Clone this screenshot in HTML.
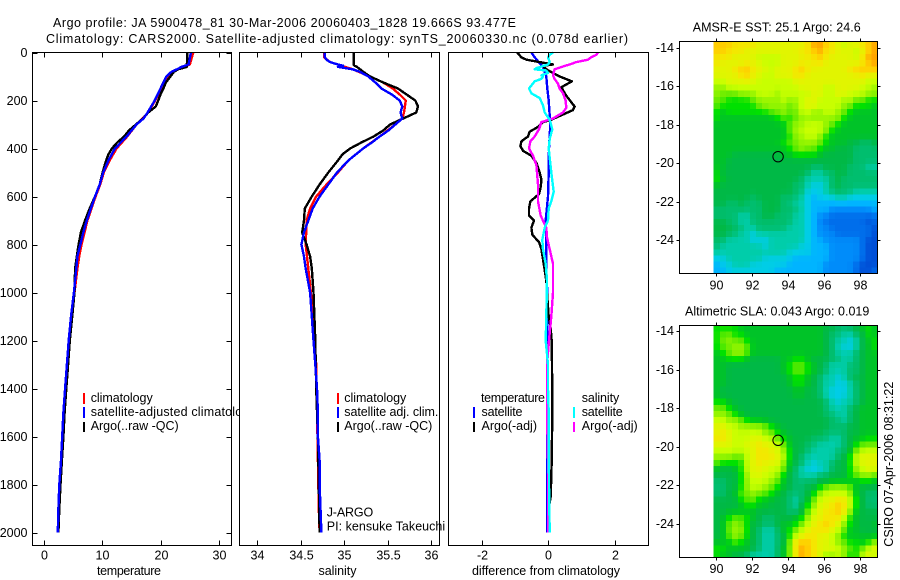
<!DOCTYPE html>
<html lang="en">
<head>
<meta charset="utf-8">
<title>Argo profile JA 5900478_81</title>
<style>
html,body{margin:0;padding:0;background:#fff;}
svg{display:block;}
text{font-family:"Liberation Sans",sans-serif;font-size:12.5px;fill:#000;}
</style>
</head>
<body>
<svg id="figure" xmlns="http://www.w3.org/2000/svg" width="900" height="580" viewBox="0 0 900 580">
  <rect x="0" y="0" width="900" height="580" fill="#fff"/>
  <text x="53" y="27" textLength="463" lengthAdjust="spacing">Argo profile: JA 5900478_81 30-Mar-2006 20060403_1828 19.666S 93.477E</text>
  <text x="46" y="43" textLength="582" lengthAdjust="spacing">Climatology: CARS2000. Satellite-adjusted climatology: synTS_20060330.nc (0.078d earlier)</text>

  <g id="panel-temp">
    <rect x="32.5" y="52.5" width="199" height="493" fill="#fff"/>
    <g id="marks-temp"></g>
    <rect x="32.5" y="52.5" width="199" height="493" fill="none" stroke="#000" shape-rendering="crispEdges"/>
    <g id="ticks-temp"></g>
    <text x="129" y="575" text-anchor="middle" textLength="64" lengthAdjust="spacing">temperature</text>
    <rect x="83" y="393" width="2" height="11" fill="#f00"/>
    <rect x="83" y="407" width="2" height="11" fill="#00f"/>
    <rect x="83" y="422" width="2" height="10" fill="#000"/>
    <text x="90.7" y="402" textLength="62" lengthAdjust="spacing">climatology</text>
    <text x="90.7" y="416" textLength="165" lengthAdjust="spacing">satellite-adjusted climatology</text>
    <text x="90.7" y="430" textLength="88" lengthAdjust="spacing">Argo(..raw -QC)</text>
  </g>

  <g id="panel-sal">
    <rect x="239.5" y="52.5" width="200" height="493" fill="#fff"/>
    <g id="marks-sal"></g>
    <rect x="239.5" y="52.5" width="200" height="493" fill="none" stroke="#000" shape-rendering="crispEdges"/>
    <g id="ticks-sal"></g>
    <text x="337.5" y="575" text-anchor="middle" textLength="38" lengthAdjust="spacing">salinity</text>
    <rect x="337" y="393" width="2" height="11" fill="#f00"/>
    <rect x="337" y="407" width="2" height="11" fill="#00f"/>
    <rect x="337" y="422" width="2" height="10" fill="#000"/>
    <text x="344.3" y="402" textLength="62" lengthAdjust="spacing">climatology</text>
    <text x="344.3" y="416" textLength="94" lengthAdjust="spacing">satellite adj. clim.</text>
    <text x="344.3" y="430" textLength="88" lengthAdjust="spacing">Argo(..raw -QC)</text>
    <text x="326.7" y="516.7" textLength="46.5" lengthAdjust="spacing">J-ARGO</text>
    <text x="326.7" y="530.7" textLength="118.5" lengthAdjust="spacing">PI: kensuke Takeuchi</text>
  </g>

  <g id="panel-diff">
    <rect x="448.5" y="52.5" width="200" height="493" fill="#fff"/>
    <g id="marks-diff"></g>
    <rect x="448.5" y="52.5" width="200" height="493" fill="none" stroke="#000" shape-rendering="crispEdges"/>
    <g id="ticks-diff"></g>
    <text x="546" y="575" text-anchor="middle" textLength="148" lengthAdjust="spacing">difference from climatology</text>
    <text x="481" y="402" textLength="64" lengthAdjust="spacing">temperature</text>
    <text x="481.5" y="416" textLength="41" lengthAdjust="spacing">satellite</text>
    <text x="481.5" y="430" textLength="55.5" lengthAdjust="spacing">Argo(-adj)</text>
    <rect x="473" y="407" width="2" height="11" fill="#00f"/>
    <rect x="473" y="422" width="2" height="10" fill="#000"/>
    <text x="581.7" y="402" textLength="37.5" lengthAdjust="spacing">salinity</text>
    <text x="581.7" y="416" textLength="41" lengthAdjust="spacing">satellite</text>
    <text x="581.7" y="430" textLength="56" lengthAdjust="spacing">Argo(-adj)</text>
    <rect x="573" y="407" width="2" height="11" fill="#0ff"/>
    <rect x="573" y="422" width="2" height="10" fill="#f0f"/>
  </g>

  <g id="panel-sst">
    <text x="692.7" y="31.7" textLength="168" lengthAdjust="spacing">AMSR-E SST: 25.1 Argo: 24.6</text>
    <g id="cells-sst"></g>
    <rect x="679.5" y="41.5" width="198" height="232" fill="none" stroke="#000" shape-rendering="crispEdges"/>
    <g id="ticks-sst"></g>
  </g>

  <g id="panel-sla">
    <text x="685" y="315.7" textLength="184.3" lengthAdjust="spacing">Altimetric SLA: 0.043 Argo: 0.019</text>
    <g id="cells-sla"></g>
    <rect x="679.5" y="325.5" width="198" height="232" fill="none" stroke="#000" shape-rendering="crispEdges"/>
    <g id="ticks-sla"></g>
  </g>

  <text transform="translate(893 546.7) rotate(-90)" x="0" y="0" textLength="165" lengthAdjust="spacing">CSIRO 07-Apr-2006 08:31:22</text>
</svg>

<script>
// ---------- profile data ----------
const depthTicks = [0,200,400,600,800,1000,1200,1400,1600,1800,2000];
const tempTicks = [0,10,20,30];
const salTicks = [34,34.5,35,35.5,36];
const diffTicks = [-2,0,2];
const lonTicks = [90,92,94,96,98];
const latTicks = [-14,-16,-18,-20,-22,-24];

const tempClimDepth = [0,50,60,70,80,100,125,150,200,250,300,350,400,450,500,550,600,650,700,750,800,850,900,1000,1100,1200,1300,1400,1500,1600,1700,1800,1900,2000];
const tempClimValues = [25.6,25.0,23.8,23.0,22.2,21.6,20.7,20.1,19.1,17.9,15.9,14.3,12.5,11.3,10.3,9.7,8.9,8.2,7.5,7.0,6.5,6.1,5.8,5.3,4.8,4.4,4.1,3.8,3.5,3.3,3.05,2.8,2.6,2.5];

const tempSatDepth = [0,50,60,70,80,100,125,150,200,250,275,300,350,400,450,500,550,600,650,700,750,800,850,900,1000,1100,1200,1300,1400,1500,1600,1700,1800,1900,2000];
const tempSatValues = [25.2,24.8,23.6,22.8,21.9,21.0,20.5,20.0,19.0,17.8,17.1,15.9,14.2,12.2,11.1,10.2,9.6,8.8,8.1,7.4,6.8,6.3,5.8,5.6,5.2,4.7,4.3,4.0,3.7,3.4,3.2,3.0,2.7,2.55,2.45];

const tempArgoDepth = [0,60,70,80,100,125,150,175,200,225,250,275,300,325,350,375,400,425,450,500,550,600,650,700,750,800,850,900,1000,1100,1200,1300,1400,1500,1600,1700,1800,1900,2000];
const tempArgoValues = [24.6,24.5,23.0,22.3,21.7,20.9,20.5,20.0,19.6,19.2,17.9,17.0,15.8,14.6,13.8,12.6,11.7,11.1,10.7,10.1,9.6,8.8,7.9,7.1,6.4,6.0,5.7,5.4,5.3,4.9,4.5,4.2,3.9,3.6,3.4,3.15,2.9,2.7,2.55];

const salClimDepth = [0,20,40,50,70,100,125,150,175,200,250,275,300,350,400,450,500,550,600,650,700,800,900,1000,1300,1900,2000];
const salClimValues = [34.77,34.77,34.84,34.93,35.1,35.3,35.45,35.56,35.64,35.71,35.69,35.67,35.59,35.41,35.22,35.05,34.93,34.80,34.68,34.61,34.57,34.56,34.59,34.62,34.68,34.71,34.72];

const salSatDepth = [0,20,30,40,50,55,60,70,80,100,125,150,175,200,225,250,275,300,325,350,375,400,450,500,550,600,650,700,750,800,850,900,1000,1100,1200,1300,1400,1500,1600,1700,1800,1900,2000];
const salSatValues = [34.78,34.78,34.8,34.84,34.93,34.99,34.93,35.1,35.18,35.28,35.36,35.43,35.55,35.64,35.67,35.65,35.67,35.59,35.51,35.41,35.32,35.22,35.05,34.92,34.82,34.72,34.64,34.59,34.54,34.51,34.54,34.56,34.61,34.63,34.65,34.67,34.69,34.7,34.7,34.72,34.72,34.73,34.74];

const salArgoDepth = [0,50,55,60,80,100,125,150,175,200,225,250,275,290,300,325,350,375,400,425,450,500,550,600,650,700,750,800,850,900,1000,1200,1400,1600,1800,2000];
const salArgoValues = [35.11,35.11,35.12,35.15,35.22,35.3,35.45,35.62,35.72,35.82,35.85,35.83,35.68,35.59,35.53,35.45,35.34,35.2,35.07,34.98,34.93,34.82,34.72,34.63,34.55,34.54,34.52,34.57,34.61,34.63,34.65,34.67,34.68,34.7,34.71,34.72];

const diffTempSatDepth = [0,20,40,60,100,150,200,300,400,500,600,700,800,900,1000,2000];
const diffTempSatValues = [-0.5,-0.4,-0.28,-0.15,-0.05,-0.02,0.02,0.07,0.03,0.02,0,-0.07,-0.05,-0.05,-0.02,-0.02];

const diffTempArgoDepth = [0,20,30,40,50,55,70,100,120,145,180,225,240,280,290,310,330,350,370,390,410,430,460,500,530,560,590,620,650,680,700,730,760,790,820,880,950,1000,1100,1150,1200,1300,1500,1700,1850,1900,2000];
const diffTempArgoValues = [-0.93,-0.8,-0.65,-0.25,0.15,-0.15,-0.05,0.35,0.72,0.4,0.55,0.8,0.75,0.1,-0.15,-0.3,-0.55,-0.6,-0.8,-0.83,-0.75,-0.5,-0.35,-0.25,-0.2,-0.22,-0.27,-0.53,-0.57,-0.57,-0.42,-0.5,-0.47,-0.27,-0.2,-0.13,-0.05,-0.03,0.02,0.08,0.11,0.12,0.13,0.11,0.08,0.02,0];

const diffSalSatDepth = [0,10,20,40,50,65,70,75,85,95,100,110,120,150,170,190,220,250,280,320,360,400,500,580,620,650,700,730,780,820,880,950,1100,1200,1300,1400,1500,1800,2000];
const diffSalSatValues = [0.15,0.05,0,0.05,0,-0.35,-0.4,-0.05,0,-0.2,-0.15,-0.2,-0.4,-0.57,-0.5,-0.25,-0.15,-0.1,0.05,0.13,0.05,0.02,0.1,0.17,0.1,0.02,0,-0.1,-0.17,-0.15,-0.07,-0.03,-0.05,-0.07,0,0,0.02,0.03,0.05];

const diffSalArgoDepth = [0,10,20,30,40,50,55,70,95,110,130,150,170,200,230,250,275,290,320,350,370,400,430,470,550,620,680,730,770,820,880,1000,1100,1200,1300,1500,1700,2000];
const diffSalArgoValues = [1.5,1.45,1.3,1.2,0.85,0.65,0.53,0.2,0.15,0.2,0.3,0.35,0.45,0.53,0.55,0.45,0.15,-0.2,-0.27,-0.4,-0.53,-0.57,-0.45,-0.35,-0.3,-0.3,-0.22,-0.05,-0.03,0.05,0.15,0.15,0.1,0.03,-0.03,-0.03,0,0];

// ---------- map data: colour levels on the shared scale, north row first ----------
const sstGrid = [
[15,15,15,14,14,14,14,13,13,13,13,13,13,13,13,14,16,16,15,14,13,12,13,13,14,15,16],
[15,15,14,14,14,13,13,13,13,13,13,13,13,13,14,14,15,16,14,14,13,13,13,12,13,15,16],
[14,14,14,13,13,13,13,12,12,12,12,13,13,13,13,14,14,15,14,13,13,13,13,12,14,16,16],
[14,13,13,13,13,14,13,13,12,12,12,13,13,13,14,13,14,14,13,13,13,13,13,13,14,15,16],
[13,13,13,14,15,15,14,13,13,12,13,13,13,14,15,14,13,13,13,13,13,13,14,15,15,15,15],
[13,13,13,13,14,15,13,13,12,12,13,13,13,14,14,13,13,13,13,13,13,13,13,13,14,13,13],
[12,12,13,13,13,13,13,12,12,12,12,12,12,13,13,13,13,13,13,13,13,13,13,13,13,12,12],
[11,11,12,12,12,12,12,12,12,12,12,12,12,12,13,13,13,13,12,12,13,13,13,13,12,12,11],
[11,10,10,10,11,11,11,12,12,12,11,12,12,12,12,12,13,13,12,12,13,13,12,12,12,11,11],
[10,10,9,9,9,9,10,11,11,11,11,12,11,11,12,13,13,12,12,12,12,11,12,10,10,9,9],
[10,9,9,9,9,9,9,10,11,11,11,11,10,11,12,13,13,12,12,12,12,11,10,9,9,9,8],
[9,8,9,9,9,9,9,9,9,10,10,11,10,10,12,12,11,11,12,12,11,10,9,8,8,8,8],
[9,8,8,8,8,8,8,8,8,8,9,10,9,10,11,11,11,11,11,11,11,9,8,8,8,8,8],
[8,8,8,8,8,8,8,8,8,8,8,8,10,11,11,12,12,12,11,10,9,8,8,8,8,8,8],
[8,8,8,8,8,8,8,8,8,8,8,8,10,11,12,12,12,12,11,9,8,8,8,8,8,8,8],
[8,8,8,8,8,8,8,8,8,8,8,8,9,11,11,12,12,11,9,8,8,8,8,8,8,8,8],
[8,8,8,8,8,8,8,8,8,8,8,9,10,10,11,11,11,10,9,8,8,8,7,7,6,6,7],
[8,8,8,8,8,8,8,8,8,8,8,8,9,10,11,10,10,9,8,8,7,7,7,6,6,6,6],
[8,8,8,7,7,7,7,7,7,7,7,8,8,9,9,9,9,8,7,7,7,7,7,6,6,6,6],
[8,8,7,7,7,7,7,7,7,7,7,7,7,7,7,7,7,7,7,7,7,7,7,6,6,6,6],
[8,8,7,7,7,7,7,7,7,7,7,7,7,7,7,7,6,6,7,7,7,7,6,6,6,5,5],
[9,7,7,7,7,7,7,7,7,7,7,7,7,7,7,6,5,5,6,6,7,7,6,6,6,6,6],
[9,8,7,7,7,7,7,7,7,7,7,7,7,7,6,5,5,5,5,6,7,6,6,6,6,6,6],
[8,7,7,7,7,7,7,7,7,7,7,7,7,6,6,5,4,4,5,6,7,6,6,6,6,6,6],
[7,7,7,7,7,7,7,7,7,7,7,7,7,6,6,4,4,4,5,6,6,6,6,5,5,5,5],
[7,7,7,7,7,7,6,7,7,7,7,6,6,6,5,4,3,4,4,4,5,5,4,4,4,4,4],
[7,7,6,6,7,6,6,6,7,7,7,6,6,5,5,4,3,3,3,3,3,3,3,3,3,3,3],
[6,6,6,6,6,6,6,6,7,7,7,6,6,6,5,4,3,3,3,2,2,2,2,2,2,2,3],
[6,6,6,6,5,5,6,6,7,7,6,6,6,5,5,4,3,2,2,1,1,1,1,1,1,1,1],
[7,7,6,6,5,5,6,6,6,6,6,6,6,5,5,4,3,2,1,1,1,1,1,1,1,0,1],
[7,7,7,6,6,5,5,6,6,6,6,6,5,5,5,4,3,2,2,1,1,1,1,1,1,1,0],
[7,7,6,6,5,5,4,5,5,5,5,5,5,5,5,4,3,2,2,2,1,1,1,1,1,1,0],
[6,6,5,5,5,5,4,4,4,5,5,5,5,5,5,4,3,3,2,2,2,2,2,2,1,0,0],
[6,5,5,5,5,5,5,5,4,5,5,5,5,5,4,4,3,3,3,2,2,2,2,2,1,0,0],
[5,5,5,5,5,5,5,5,5,5,5,5,4,4,4,4,3,3,3,2,2,2,2,2,1,0,0],
[4,4,5,5,5,5,5,5,4,4,4,4,4,3,3,3,3,3,3,2,2,2,2,2,1,0,0],
[3,4,4,5,5,5,4,4,4,4,4,4,3,3,3,3,3,3,2,2,2,2,2,1,0,0,0],
[3,3,4,4,4,4,4,4,4,4,3,3,3,3,3,3,3,3,2,2,2,2,2,1,0,0,1]
];

const slaGrid = [
[9,9,9,9,8,8,8,8,8,8,8,8,8,8,8,8,8,8,7,7,6,6,6,7,8,9,8],
[9,10,10,9,9,8,8,8,8,8,8,8,8,8,8,8,8,8,7,6,6,5,5,6,7,9,8],
[9,10,11,10,10,9,8,8,8,8,8,8,8,8,8,8,8,8,7,6,5,5,4,5,7,8,9],
[9,10,10,11,11,10,8,8,8,8,8,8,8,8,8,8,8,8,7,6,5,4,4,5,7,8,9],
[8,9,10,11,11,10,8,8,8,8,8,8,8,8,8,8,8,8,7,6,5,5,5,6,7,8,8],
[8,8,9,9,9,8,7,7,7,7,7,8,8,9,9,8,7,7,7,6,6,5,5,6,7,8,8],
[8,8,7,7,7,7,7,7,7,7,7,8,9,10,10,9,8,7,6,5,5,5,6,6,7,8,8],
[8,8,7,7,7,7,7,7,7,7,7,8,9,10,10,9,8,7,6,5,5,5,6,6,7,8,8],
[8,8,7,7,7,7,7,7,7,7,7,7,8,9,9,8,7,6,5,5,4,5,6,7,7,8,8],
[8,8,7,7,7,7,7,7,7,7,7,7,8,9,9,8,7,6,5,5,4,4,5,6,7,8,8],
[8,7,7,7,7,7,7,7,7,7,7,7,7,8,8,7,7,6,5,4,4,4,5,6,7,8,8],
[8,7,7,7,7,7,7,7,7,7,7,7,7,8,8,7,7,6,5,4,4,4,5,6,7,8,8],
[9,9,8,7,7,7,7,7,7,7,7,7,7,7,7,7,7,7,6,5,4,5,5,6,7,8,8],
[10,10,9,8,7,7,7,7,7,7,7,7,7,7,7,7,7,7,6,5,5,5,6,7,8,8,8],
[11,11,10,9,8,7,7,7,7,7,7,7,7,7,7,7,7,7,6,6,5,5,6,7,8,8,8],
[12,12,11,11,10,9,8,8,8,7,7,7,7,7,7,7,7,7,7,6,6,5,6,7,8,8,8],
[13,13,12,12,11,11,11,11,10,9,8,7,7,7,7,7,7,7,7,6,6,6,7,7,8,8,8],
[13,14,13,12,12,12,12,12,11,10,9,8,7,7,7,7,7,7,6,6,6,6,7,7,8,8,8],
[14,14,13,12,12,12,13,13,12,12,10,9,8,7,7,7,6,6,6,5,5,6,7,8,8,9,9],
[13,13,13,12,12,13,13,14,13,13,12,10,8,7,7,6,6,5,5,5,5,6,7,9,10,10,10],
[12,12,12,12,12,12,13,14,14,13,13,11,9,7,7,6,5,5,5,5,6,6,8,10,12,12,12],
[11,11,11,10,10,12,13,14,14,14,13,12,9,7,6,5,5,5,5,5,6,7,9,12,13,13,13],
[10,9,9,9,9,12,13,14,13,13,13,11,8,7,6,5,4,5,5,6,7,7,9,12,13,13,13],
[8,7,7,8,9,12,13,13,13,12,12,10,8,6,5,4,4,4,5,6,7,7,9,11,12,13,13],
[7,7,7,7,9,11,13,13,12,12,11,9,7,6,5,5,5,6,6,7,7,7,9,10,11,11,10],
[6,6,7,7,9,11,12,12,12,11,10,8,7,6,6,6,6,7,7,8,8,8,8,8,9,9,8],
[6,6,7,7,9,11,12,12,11,10,9,8,7,6,6,7,7,9,10,11,11,11,10,8,7,7,7],
[6,6,7,8,10,10,11,10,10,9,8,7,6,6,6,7,9,11,12,12,12,12,11,8,7,6,6],
[7,7,7,7,9,10,10,9,8,8,7,7,6,5,6,8,10,12,13,13,14,14,12,9,7,6,6],
[7,7,7,7,8,9,9,8,8,7,7,7,6,5,7,9,11,13,13,14,15,14,12,9,7,6,6],
[7,7,8,8,8,8,8,7,7,7,7,7,6,6,7,10,12,13,14,14,15,14,11,8,7,7,7],
[7,8,9,10,10,9,8,7,6,6,7,7,7,8,9,11,13,13,14,14,14,12,9,8,7,7,7],
[7,8,10,11,10,9,7,7,6,6,7,8,8,9,10,12,13,14,15,14,13,11,9,8,7,7,8],
[7,8,10,11,11,9,7,6,5,5,6,8,9,10,12,13,14,14,14,13,12,10,8,8,7,7,7],
[7,8,10,11,10,9,7,6,5,5,6,7,9,12,13,14,14,13,13,12,11,9,8,8,8,8,8],
[8,8,8,10,9,8,7,6,5,5,6,7,10,14,15,15,14,13,13,12,11,10,9,9,8,9,11],
[9,9,8,8,8,8,7,6,5,5,6,8,10,14,16,15,14,13,13,13,12,11,10,9,10,12,13],
[9,8,8,7,7,6,5,5,5,5,6,8,10,14,16,15,14,13,11,11,12,11,9,9,12,13,12]
];

const floatLon = [93.477];
const floatLat = [-19.666];

// colour levels 0..16
const colorStops = ["#0050d7","#006eeb","#008cfa","#00b4ff","#00cde6","#00cdaa","#00be6e","#00b946","#00c328","#00e100","#64eb00","#96f500","#c8ff00","#e1f500","#f5e600","#ffcd00","#ffa500"];

// ---------- helpers ----------
const SVGNS = "http://www.w3.org/2000/svg";
function linear(d0, d1, r0, r1) { return v => r0 + (v - d0) * (r1 - r0) / (d1 - d0); }
function shape(tag, attrs) {
  const n = document.createElementNS(SVGNS, tag);
  for (const k in attrs) n.setAttribute(k, attrs[k]);
  return n;
}
function hexPart(hex, i) { return parseInt(hex.substr(1 + i * 2, 2), 16); }
function levelColor(v) {
  const top = colorStops.length - 1;
  const clamped = Math.max(0, Math.min(top, v));
  const lo = Math.floor(clamped);
  const hi = Math.min(top, lo + 1);
  const f = clamped - lo;
  const parts = [0, 1, 2].map(i => Math.round(hexPart(colorStops[lo], i) * (1 - f) + hexPart(colorStops[hi], i) * f));
  return "rgb(" + parts.join(",") + ")";
}
// display value of a grid cell: light neighbourhood average, like the interpolated source field
function displayValue(grid, r, c) {
  let sum = grid[r][c] * 4;
  let weight = 4;
  [[-1, 0], [1, 0], [0, -1], [0, 1]].forEach(d => {
    const row = grid[r + d[0]];
    if (row && row[c + d[1]] !== undefined) {
      sum += row[c + d[1]];
      weight += 1;
    }
  });
  return sum / weight;
}

// ---------- axis functions ----------
const depthY = linear(0, 2000, 52.5, 532.5);
const tempX = linear(0, 30, 43.5, 219);
const salX = linear(34, 36, 257, 431);
const diffX = linear(-2, 2, 481.5, 614.5);
const lonX = linear(90, 98, 715.5, 859.5);
const latYSst = linear(-14, -24, 47.5, 240.2);
const latYSla = linear(-14, -24, 331, 524);

// ---------- profile lines ----------
function drawLine(parentId, depths, values, xScale, color, name) {
  const line = shape("polyline", {
    points: depths.map((d, i) => xScale(values[i]).toFixed(1) + "," + depthY(d).toFixed(1)).join(" "),
    fill: "none", stroke: color, "stroke-width": 2.4, "stroke-linejoin": "round",
    "shape-rendering": "crispEdges"
  });
  
  
  document.getElementById(parentId).appendChild(line);
}
drawLine("marks-temp", tempClimDepth, tempClimValues, tempX, "#f00", "temperature-climatology-line");
drawLine("marks-temp", tempArgoDepth, tempArgoValues, tempX, "#000", "temperature-argo-line");
drawLine("marks-temp", tempSatDepth, tempSatValues, tempX, "#00f", "temperature-satellite-line");
drawLine("marks-sal", salClimDepth, salClimValues, salX, "#f00", "salinity-climatology-line");
drawLine("marks-sal", salArgoDepth, salArgoValues, salX, "#000", "salinity-argo-line");
drawLine("marks-sal", salSatDepth, salSatValues, salX, "#00f", "salinity-satellite-line");
drawLine("marks-diff", diffTempSatDepth, diffTempSatValues, diffX, "#00f", "difference-temperature-satellite-line");
drawLine("marks-diff", diffTempArgoDepth, diffTempArgoValues, diffX, "#000", "difference-temperature-argo-line");
drawLine("marks-diff", diffSalArgoDepth, diffSalArgoValues, diffX, "#f0f", "difference-salinity-argo-line");
drawLine("marks-diff", diffSalSatDepth, diffSalSatValues, diffX, "#0ff", "difference-salinity-satellite-line");

// ---------- ticks ----------
function tickMark(parent, x1, y1, x2, y2) {
  const t = shape("line", { x1: x1, y1: y1, x2: x2, y2: y2, stroke: "#000", "shape-rendering": "crispEdges" });
  
  
  parent.appendChild(t);
}
function tickLabel(parent, x, y, str, anchor) {
  const t = shape("text", { x: x, y: y, "text-anchor": anchor });
  t.textContent = str;
  
  
  parent.appendChild(t);
}
function bottomAxis(id, ticks, scale) {
  const g = document.getElementById(id);
  ticks.forEach(v => {
    const x = Math.round(scale(v)) + 0.5;
    tickMark(g, x, 52.5, x, 57.5);
    tickMark(g, x, 545.5, x, 540.5);
    tickLabel(g, x, 559.5, String(v), "middle");
  });
}
bottomAxis("ticks-temp", tempTicks, tempX);
bottomAxis("ticks-sal", salTicks, salX);
bottomAxis("ticks-diff", diffTicks, diffX);

const tempTickGroup = document.getElementById("ticks-temp");
depthTicks.forEach(d => {
  const y = Math.round(depthY(d)) + 0.5;
  tickMark(tempTickGroup, 32.5, y, 37.5, y);
  tickMark(tempTickGroup, 231.5, y, 226.5, y);
  tickLabel(tempTickGroup, 27.5, y + 3.5, String(d), "end");
});

// ---------- maps ----------
const gridLonStart = 89.9;
const gridLonStep = 0.337;
const gridLatStart = -13.71;
const gridLatStep = 0.3165;

function drawMap(cellsId, ticksId, grid, latY, top, bottom, baseline) {
  const cells = document.getElementById(cellsId);
  grid.forEach((row, r) => {
    row.forEach((value, c) => {
      const x0 = lonX(gridLonStart + c * gridLonStep);
      const x1 = lonX(gridLonStart + (c + 1) * gridLonStep);
      const y0 = latY(gridLatStart - r * gridLatStep);
      const y1 = latY(gridLatStart - (r + 1) * gridLatStep);
      const cell = shape("rect", {
        x: x0.toFixed(2), y: y0.toFixed(2),
        width: (x1 - x0 + 0.4).toFixed(2), height: (y1 - y0 + 0.4).toFixed(2),
        fill: levelColor(displayValue(grid, r, c)), "shape-rendering": "crispEdges"
      });
      
      
      cells.appendChild(cell);
    });
  });
  const g = document.getElementById(ticksId);
  lonTicks.forEach(v => {
    const x = Math.round(lonX(v)) + 0.5;
    tickMark(g, x, top, x, top - 3);
    tickMark(g, x, bottom, x, bottom + 3);
    tickLabel(g, x, baseline, String(v), "middle");
  });
  latTicks.forEach(v => {
    const y = Math.round(latY(v)) + 0.5;
    tickMark(g, 679.5, y, 676.5, y);
    tickMark(g, 877.5, y, 880.5, y);
    tickLabel(g, 674, y + 3.5, String(v), "end");
  });
  floatLon.forEach((lon, i) => {
    const marker = shape("circle", { cx: lonX(lon), cy: latY(floatLat[i]), r: 5.2, fill: "none", stroke: "#000", "stroke-width": 1 });
    
    
    g.appendChild(marker);
  });
}
drawMap("cells-sst", "ticks-sst", sstGrid, latYSst, 41.5, 273.5, 289.3);
drawMap("cells-sla", "ticks-sla", slaGrid, latYSla, 325.5, 557.5, 573);
</script>
</body>
</html>
